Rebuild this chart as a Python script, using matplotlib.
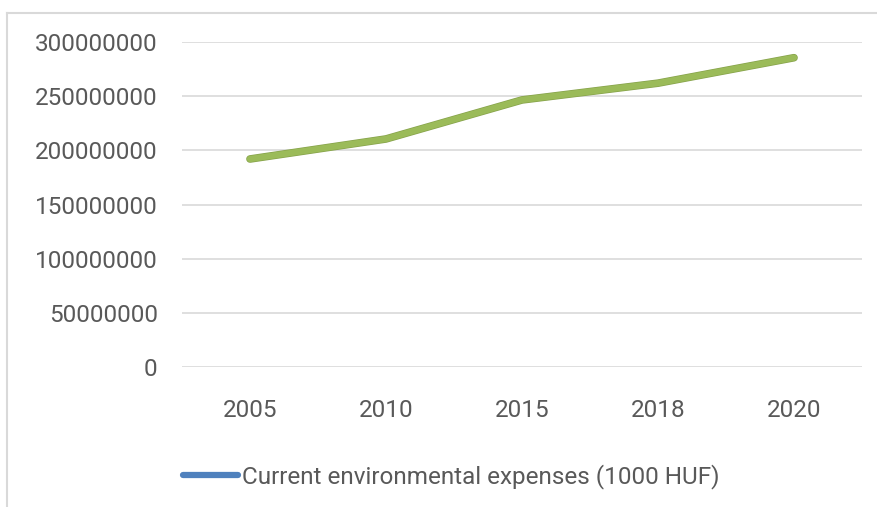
import matplotlib
matplotlib.use("Agg")
import matplotlib.pyplot as plt
import matplotlib.patheffects as pe
from matplotlib.lines import Line2D

years = ["2005", "2010", "2015", "2018", "2020"]
expenses = [192000000, 210500000, 246500000, 262000000, 285500000]
yticks = [0, 50000000, 100000000, 150000000, 200000000, 250000000, 300000000]
legend_label = "Current environmental expenses (1000 HUF)"

plt.rcParams['font.family'] = ['Roboto', 'DejaVu Sans']
FS = 17.5

W, H = 878, 507
fig = plt.figure(figsize=(W/100, H/100), dpi=100)
fig.add_artist(Line2D([7/W, 7/W], [0, 1-13/H], transform=fig.transFigure,
                      color="#d9d9d9", linewidth=1.5))
fig.add_artist(Line2D([7/W, 1], [1-13/H, 1-13/H], transform=fig.transFigure,
                      color="#d9d9d9", linewidth=1.5))

ax = fig.add_axes([182/W, 1-367/H, (862-182)/W, (367-42)/H])
x = list(range(len(years)))
ax.plot(x, expenses, color="#9bbb59", linewidth=4.5, solid_capstyle="round",
        path_effects=[pe.Stroke(linewidth=5.5, foreground="#86a24a"), pe.Normal()])
ax.set_xlim(-0.5, len(years)-0.5)
ax.set_ylim(0, 300000000)
ax.set_yticks(yticks)
ax.set_yticklabels([str(v) for v in yticks])
ax.set_xticks(x)
ax.set_xticklabels(years)
ax.grid(axis="y", color="#d9d9d9", linewidth=1.2)
ax.set_axisbelow(True)
for s in ax.spines.values():
    s.set_visible(False)
ax.tick_params(axis="both", length=0, labelsize=FS, labelcolor="#595959")
ax.tick_params(axis="y", pad=17.5)
ax.tick_params(axis="x", pad=23)

handle = Line2D([0], [0], color="#4f81bd", linewidth=4.5, solid_capstyle="round")
fig.legend([handle], [legend_label], loc="center left",
           bbox_to_anchor=(183/W, 1-477/H), frameon=False, fontsize=FS,
           labelcolor="#595959", handlelength=2.26, handletextpad=0.16,
           borderpad=0, borderaxespad=0)

fig.savefig("out.png", dpi=100)
